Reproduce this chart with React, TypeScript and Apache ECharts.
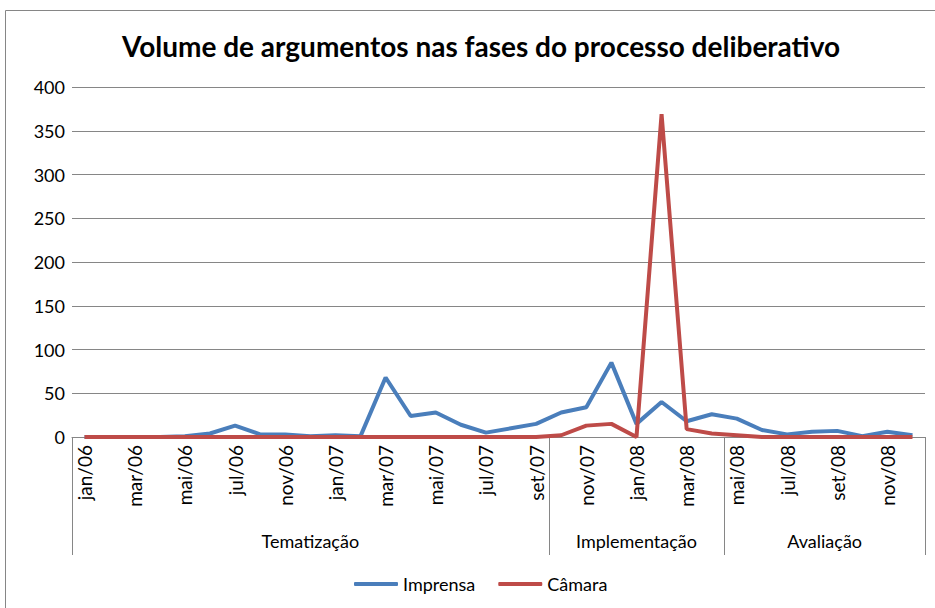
import React, { useEffect, useRef } from "react";
import * as echarts from "echarts";

const titleText = "Volume de argumentos nas fases do processo deliberativo";

const months = [
  "jan/06", "fev/06", "mar/06", "abr/06", "mai/06", "jun/06", "jul/06", "set/06", "nov/06", "dez/06",
  "jan/07", "fev/07", "mar/07", "abr/07", "mai/07", "jun/07", "jul/07", "ago/07", "set/07", "out/07", "nov/07", "dez/07",
  "jan/08", "fev/08", "mar/08", "abr/08", "mai/08", "jun/08", "jul/08", "ago/08", "set/08", "out/08", "nov/08", "dez/08",
];

const imprensa = [
  0, 0, 0, 0, 1, 4, 13, 3, 3, 1,
  2, 1, 68, 24, 28, 14, 5, 10, 15, 28, 34, 85,
  15, 40, 18, 26, 21, 8, 3, 6, 7, 1, 6, 2,
];

const camara = [
  0, 0, 0, 0, 0, 0, 0, 0, 0, 0,
  0, 0, 0, 0, 0, 0, 0, 0, 0, 2, 13, 15,
  0, 369, 9, 4, 2, 0, 0, 0, 0, 0, 0, 0,
];

const phaseNames = ["Tematização", "Implementação", "Avaliação"];
const phaseStart = [0, 19, 26];
const phaseEnd = [18, 25, 33];

const yTicks = { min: 0, max: 400, interval: 50 };

const FONT = "Lato, 'Noto Sans', sans-serif";
const GRAY = "#868686";

export default function App() {
  const ref = useRef<HTMLDivElement>(null);

  useEffect(() => {
    document.body.style.margin = "0";
    const chart = echarts.init(ref.current!, null, { renderer: "svg" });
    chart.setOption({
      animation: false,
      backgroundColor: "#ffffff",
      title: {
        text: titleText,
        left: 476,
        textAlign: "center",
        top: 27,
        textStyle: { fontFamily: FONT, fontWeight: "bold", fontSize: 28, color: "#000" },
      },
      grid: { left: 72, right: 10, top: 87, bottom: 171, containLabel: false },
      legend: {
        data: ["Imprensa", "Câmara"],
        left: 349,
        top: 570,
        icon: "roundRect",
        itemWidth: 44,
        itemHeight: 4,
        itemGap: 23,
        textStyle: { fontFamily: FONT, fontSize: 18, color: "#000", padding: [0, 0, 0, 0] },
      },
      xAxis: {
        type: "category",
        data: months,
        boundaryGap: true,
        axisLine: { show: true, lineStyle: { color: GRAY, width: 1 } },
        axisTick: { show: false },
        axisLabel: {
          interval: 1,
          rotate: 90,
          margin: 8,
          fontFamily: FONT,
          fontSize: 19,
          color: "#000",
        },
        splitLine: { show: false },
      },
      yAxis: {
        type: "value",
        min: yTicks.min,
        max: yTicks.max,
        interval: yTicks.interval,
        axisLine: { show: false },
        axisTick: { show: false },
        axisLabel: { fontFamily: FONT, fontSize: 18, color: "#000", margin: 7 },
        splitLine: { show: true, lineStyle: { color: GRAY, width: 1.2 } },
      },
      series: [
        {
          name: "Imprensa",
          type: "line",
          data: imprensa,
          symbol: "none",
          color: "#4A7EBB",
          lineStyle: { color: "#4A7EBB", width: 4 },
        },
        {
          name: "Câmara",
          type: "line",
          data: camara,
          symbol: "none",
          color: "#BE4B48",
          lineStyle: { color: "#BE4B48", width: 4 },
        },
      ],
    });

    const xc = (i: number) => chart.convertToPixel({ xAxisIndex: 0 }, i) as number;
    const band = xc(1) - xc(0);
    const y0 = chart.convertToPixel({ yAxisIndex: 0 }, 0) as number;
    const sepLen = 118;

    const graphics: any[] = [
      {
        type: "rect",
        shape: { x: 5.5, y: 10.5, width: 940, height: 600 },
        style: { fill: "none", stroke: GRAY, lineWidth: 1 },
        silent: true,
      },
    ];
    const bounds: number[] = [];
    phaseStart.forEach((s) => bounds.push(xc(s) - band / 2));
    bounds.push(xc(phaseEnd[phaseEnd.length - 1]) + band / 2);
    bounds.forEach((bx) => {
      const x = Math.round(bx) + 0.5;
      graphics.push({
        type: "line",
        shape: { x1: x, y1: y0, x2: x, y2: y0 + sepLen },
        style: { stroke: GRAY, lineWidth: 1 },
        silent: true,
      });
    });
    phaseNames.forEach((name, k) => {
      const left = xc(phaseStart[k]) - band / 2;
      const right = xc(phaseEnd[k]) + band / 2;
      graphics.push({
        type: "text",
        x: (left + right) / 2,
        y: y0 + 104,
        style: {
          text: name,
          fontFamily: FONT,
          fontSize: 18,
          fill: "#000",
          align: "center",
          verticalAlign: "middle",
        },
        silent: true,
      });
    });
    chart.setOption({ graphic: graphics });

    return () => chart.dispose();
  }, []);

  return <div ref={ref} style={{ width: 935, height: 608 }} />;
}
